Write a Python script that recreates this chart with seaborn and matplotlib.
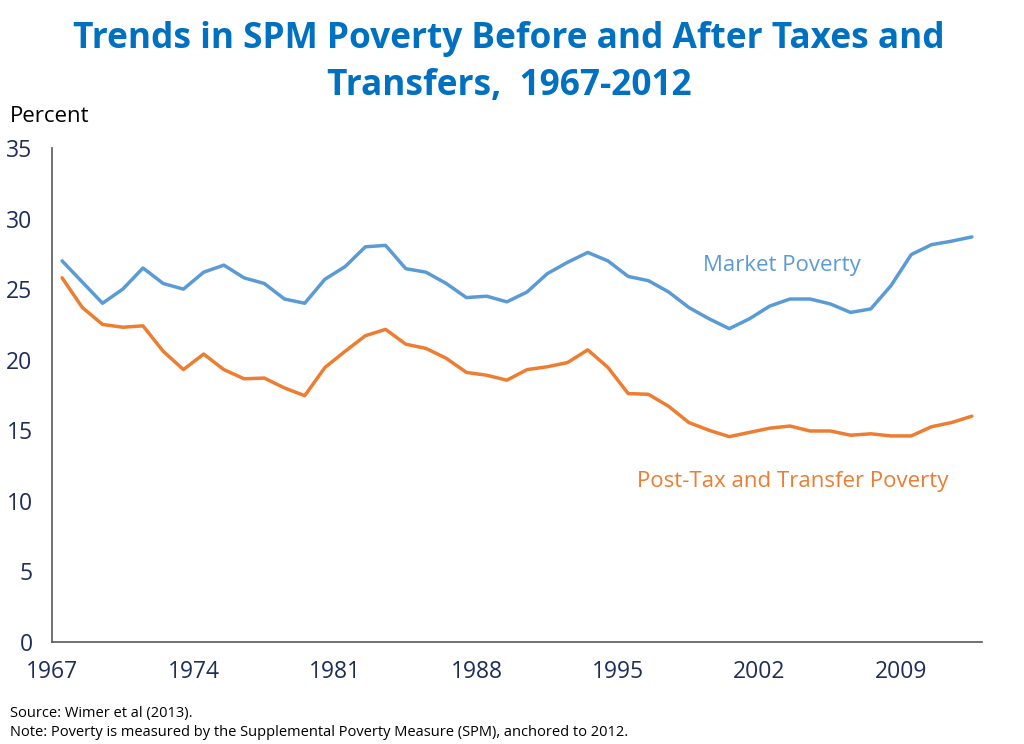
import pandas as pd
import matplotlib.pyplot as plt
import seaborn as sns

# Datos (porcentaje, 1967-2012)
years = list(range(1967, 2013))
market_poverty = [
    27.0, 25.5, 24.0, 25.0, 26.5, 25.4, 25.0, 26.2, 26.7, 25.8,
    25.4, 24.3, 24.0, 25.7, 26.6, 28.0, 28.1, 26.45, 26.2, 25.4,
    24.4, 24.5, 24.1, 24.8, 26.1, 26.9, 27.6, 27.0, 25.9, 25.6,
    24.8, 23.7, 22.9, 22.2, 22.9, 23.8, 24.3, 24.3, 23.95, 23.35,
    23.6, 25.25, 27.45, 28.15, 28.4, 28.7,
]
post_tax_poverty = [
    25.8, 23.7, 22.5, 22.3, 22.4, 20.6, 19.3, 20.4, 19.3, 18.65,
    18.7, 18.0, 17.45, 19.45, 20.6, 21.7, 22.15, 21.1, 20.8, 20.1,
    19.1, 18.9, 18.55, 19.3, 19.5, 19.8, 20.7, 19.45, 17.6, 17.55,
    16.7, 15.55, 15.0, 14.55, 14.85, 15.15, 15.3, 14.95, 14.95, 14.65,
    14.75, 14.6, 14.6, 15.25, 15.55, 16.0,
]
series_names = ["Market Poverty", "Post-Tax and Transfer Poverty"]
tick_years = [1967, 1974, 1981, 1988, 1995, 2002, 2009]
y_ticks = [0, 5, 10, 15, 20, 25, 30, 35]

blue = "#5B9BD5"
orange = "#ED7D31"
navy = "#1F2D5A"
axis_gray = "#595959"

df = pd.DataFrame({
    "Year": years * 2,
    "Percent": market_poverty + post_tax_poverty,
    "Series": [series_names[0]] * len(years) + [series_names[1]] * len(years),
})

sns.set_theme(style="white")
plt.rcParams['font.family'] = ['Open Sans', 'DejaVu Sans']

fig = plt.figure(figsize=(10.24, 7.44), dpi=100)
ax = fig.add_axes([52 / 1024, 1 - 642 / 744, 930 / 1024, 494 / 744])

sns.lineplot(data=df, x="Year", y="Percent", hue="Series",
             palette=[blue, orange], linewidth=2.5, legend=False, ax=ax)

# Eje de categorías: las marcas quedan entre los años
ax.set_xlim(years[0] - 0.5, years[-1] + 0.5)
ax.set_xticks([y - 0.5 for y in tick_years])
ax.set_xticklabels([str(y) for y in tick_years])
ax.set_ylim(0, 35)
ax.set_yticks(y_ticks)

ax.set_xlabel("")
ax.set_ylabel("")
for side in ["top", "right"]:
    ax.spines[side].set_visible(False)
for side in ["left", "bottom"]:
    ax.spines[side].set_color(axis_gray)
    ax.spines[side].set_linewidth(1.2)

ax.tick_params(axis="both", which="major", direction="out", length=6,
               width=1.2, color=axis_gray, labelcolor=navy, labelsize=16.5)
ax.tick_params(axis="x", pad=7)
ax.tick_params(axis="y", pad=8)
ax.grid(False)

# Etiquetas de series
ax.text(2002.6, 26.7, series_names[0], color=blue, fontsize=16, ha="center", va="center")
ax.text(2003.15, 11.35, series_names[1], color=orange, fontsize=16, ha="center", va="center")

# Título y textos
fig.text(0.497, 1 - 62.5 / 744, "Trends in SPM Poverty Before and After Taxes and\nTransfers,  1967-2012",
         ha="center", va="center", fontsize=25.4, fontweight="bold", color="#0070C0",
         linespacing=1.42)
fig.text(10 / 1024, 1 - 117 / 744, "Percent", ha="left", va="center", fontsize=16, color="black")
fig.text(10 / 1024, 1 - 714 / 744, "Source: Wimer et al (2013).", ha="left", va="center",
         fontsize=10.5, color="black")
fig.text(10 / 1024, 1 - 733 / 744,
         "Note: Poverty is measured by the Supplemental Poverty Measure (SPM), anchored to 2012.",
         ha="left", va="center", fontsize=10.5, color="black")

fig.savefig("out.png", dpi=100)
